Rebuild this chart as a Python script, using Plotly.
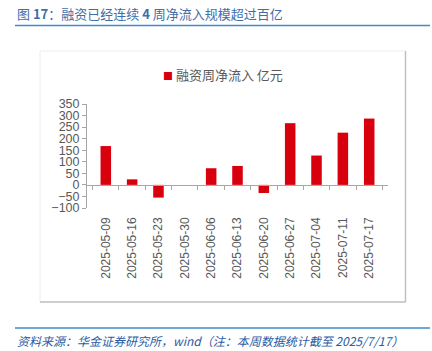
import plotly.graph_objects as go

dates = ["2025-05-09", "2025-05-16", "2025-05-23", "2025-05-30", "2025-06-06", "2025-06-13",
         "2025-06-20", "2025-06-27", "2025-07-04", "2025-07-11", "2025-07-17"]
net_inflow = [168, 24, -55, 0, 72, 82, -35, 267, 127, 226, 287]
y_ticks = [-100, -50, 0, 50, 100, 150, 200, 250, 300, 350]
series_name = "融资周净流入 亿元"
title_text = "图 <b>17</b>：融资已经连续 <b>4</b> 周净流入规模超过百亿"
source_text = "资料来源：华金证券研究所，wind（注：本周数据统计截至 2025/7/17）"

W, H = 432, 351
L, R, T, B = 87, 44, 104, 143
PW, PH = W - L - R, H - T - B


def px(x):
    return (x - L) / PW


def py(y):
    return (H - B - y) / PH


YMIN, YMAX = -100, 350
zero_pos = (0 - YMIN) / (YMAX - YMIN)

GRAY = "#595959"
RED = "#d9000d"
CJK = "Noto Sans CJK SC, Liberation Sans, Arial"

fig = go.Figure()
fig.add_trace(go.Bar(x=dates, y=net_inflow, name=series_name,
                     marker=dict(color=RED, line=dict(width=0)),
                     showlegend=False, xaxis="x", yaxis="y"))
# helper trace for zero-line axis
fig.add_trace(go.Scatter(x=dates, y=[None] * len(dates), mode="markers", xaxis="x2",
                         showlegend=False, hoverinfo="skip", marker=dict(opacity=0)))

fig.update_layout(
    width=W, height=H,
    margin=dict(l=L, r=R, t=T, b=B),
    paper_bgcolor="white", plot_bgcolor="white",
    bargap=0.6,
    font=dict(family="Liberation Sans, Arial", color=GRAY),
    xaxis=dict(type="category", categoryorder="array", categoryarray=dates,
               showline=False, ticks="", showgrid=False, zeroline=False,
               tickangle=-90, tickfont=dict(size=12, color=GRAY, family="Liberation Sans, Arial"),
               ticklabelstandoff=6),
    xaxis2=dict(type="category", categoryorder="array", categoryarray=dates, matches="x",
                overlaying="x", anchor="free", position=zero_pos, side="bottom",
                showline=True, linecolor="#a6a6a6", linewidth=1,
                ticks="outside", ticklen=4, tickcolor="#a6a6a6", tickson="boundaries",
                showticklabels=False, showgrid=False, zeroline=False),
    yaxis=dict(range=[YMIN, YMAX], tickvals=y_ticks, showline=True, linecolor="#a6a6a6",
               linewidth=1, ticks="outside", ticklen=4, tickcolor="#a6a6a6",
               showgrid=False, zeroline=False,
               tickfont=dict(size=12.5, color=GRAY, family="Liberation Sans, Arial")),
    showlegend=False,
)

# legend (as text key)
fig.add_annotation(text='<span style="color:%s;font-size:10px">■</span> %s' % (RED, series_name),
                   xref="paper", yref="paper", x=px(161), y=py(74),
                   xanchor="left", yanchor="middle", showarrow=False,
                   font=dict(size=13, color=GRAY, family=CJK))

# chart frame
fig.add_shape(type="rect", xref="paper", yref="paper", x0=px(40), x1=px(405.5), y0=py(302), y1=py(51),
              line=dict(color="#eeeeee", width=1), layer="below")
fig.add_shape(type="line", xref="paper", yref="paper", x0=px(405.5), x1=px(405.5), y0=py(302), y1=py(51),
              line=dict(color="#c0c0c0", width=1.5))
fig.add_shape(type="line", xref="paper", yref="paper", x0=px(40), x1=px(405.5), y0=py(302), y1=py(302),
              line=dict(color="#c0c0c0", width=1.5))
# blue rules
for yy in (25.5, 328):
    fig.add_shape(type="line", xref="paper", yref="paper", x0=px(15), x1=px(430), y0=py(yy), y1=py(yy),
                  line=dict(color="#3d8bcd", width=1.5))

fig.add_annotation(text=title_text, xref="paper", yref="paper", x=px(15), y=py(13),
                   xanchor="left", yanchor="middle", showarrow=False,
                   font=dict(size=13, color="#3f6ea8", family=CJK))
fig.add_annotation(text="<i>" + source_text + "</i>", xref="paper", yref="paper", x=px(15), y=py(340),
                   xanchor="left", yanchor="middle", showarrow=False,
                   font=dict(size=12, color="#2b5ba3", family=CJK))

fig.write_html("out.html")
